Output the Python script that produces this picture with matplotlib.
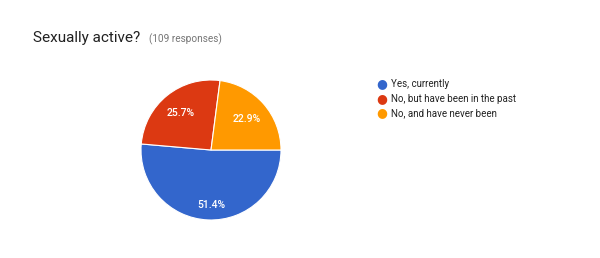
import matplotlib.pyplot as plt

labels = ['Yes, currently', 'No, but have been in the past', 'No, and have never been']
counts = [56, 28, 25]
colors = ['#3366CC', '#DC3912', '#FF9900']

fig = plt.figure(figsize=(6, 2.58), dpi=100)
plt.rcParams['font.family'] = ['Roboto', 'DejaVu Sans']

fig.text(33 / 600, 1 - 38 / 258, 'Sexually active?', fontsize=11, color='#212121', va='center')
fig.text(149 / 600, 1 - 39 / 258, '(109 responses)', fontsize=7.2, color='#757575', va='center')

ax = fig.add_axes([141 / 600, 1 - 220 / 258, 140 / 600, 140 / 258])
wedges, texts, autotexts = ax.pie(counts, colors=colors, startangle=0, counterclock=False,
                                  autopct='%1.1f%%', pctdistance=0.68,
                                  wedgeprops=dict(edgecolor='white', linewidth=0.8),
                                  textprops=dict(color='white', fontsize=7.5, weight='medium'))
autotexts[0].set_position((0, -0.79))
ax.set_xlim(-1, 1)
ax.set_ylim(-1, 1)
ax.set_aspect('equal')

ys = [84, 99, 113]
for lab, c, y in zip(labels, colors, ys):
    fig.text(382 / 600, 1 - y / 258, '\u25CF', color=c, fontsize=9, ha='center', va='center',
             family='DejaVu Sans')
    fig.text(391 / 600, 1 - y / 258, lab, color='#222222', fontsize=7, va='center')

fig.savefig('out.png', dpi=100)
